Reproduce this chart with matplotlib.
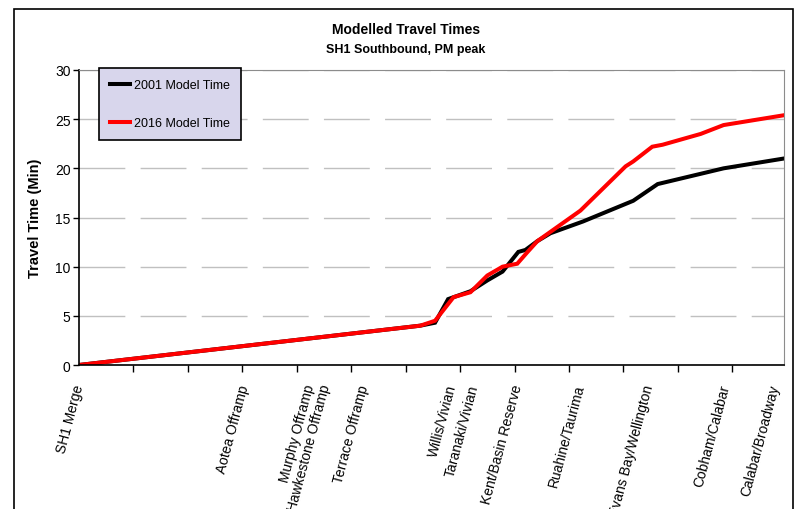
import matplotlib
matplotlib.use('Agg')
import matplotlib.pyplot as plt
from matplotlib.patches import Rectangle

# positions along the route (in axis tick units) and travel times (min)
pos_2001 = [0, 6.27, 6.54, 6.78, 7.19, 7.50, 7.78, 8.07, 8.20, 8.42, 8.66, 9.26, 10.18, 10.63, 11.84, 12.95]
time_2001 = [0, 4.0, 4.3, 6.7, 7.5, 8.6, 9.5, 11.5, 11.7, 12.6, 13.4, 14.6, 16.7, 18.4, 20.0, 21.0]

pos_2016 = [0, 6.27, 6.54, 6.88, 7.19, 7.50, 7.78, 8.05, 8.24, 8.42, 9.21, 10.04, 10.18, 10.53, 10.72, 11.42, 11.84, 12.95]
time_2016 = [0, 4.0, 4.5, 6.9, 7.4, 9.1, 10.0, 10.3, 11.5, 12.6, 15.7, 20.2, 20.7, 22.2, 22.4, 23.5, 24.4, 25.4]

stop_names = ['SH1 Merge', 'Aotea Offramp', 'Murphy Offramp', 'Hawkestone Offramp', 'Terrace Offramp',
              'Willis/Vivian', 'Taranaki/Vivian', 'Kent/Basin Reserve', 'Ruahine/Taurima',
              'Evans Bay/Wellington', 'Cobham/Calabar', 'Calabar/Broadway']
stop_pos = [0, 3.05, 4.24, 4.53, 5.25, 6.86, 7.27, 8.06, 9.21, 10.48, 11.87, 12.78]

narrow = ['Liberation Sans Narrow', 'Liberation Sans', 'DejaVu Sans']
arial = ['Liberation Sans', 'DejaVu Sans']

fig = plt.figure(figsize=(7.99, 5.10), dpi=100)
ax = fig.add_axes([79/799, 1-366/510, (784-79)/799, (366-71)/510])

ax.plot(pos_2001, time_2001, color='black', lw=2.9, label='2001 Model Time', solid_joinstyle='miter')
ax.plot(pos_2016, time_2016, color='#ff0000', lw=2.9, label='2016 Model Time', solid_joinstyle='miter')

ax.set_xlim(0, 12.95)
ax.set_ylim(0, 30)
ax.set_yticks([0, 5, 10, 15, 20, 25, 30])
ax.yaxis.grid(True, color='#c0c0c0', lw=1, linestyle=(0, (33, 11)))
ax.set_axisbelow(True)

# category labels at stop positions, tick marks every unit
ax.set_xticks(stop_pos)
ax.set_xticklabels(stop_names, rotation=75, ha='right', va='center', rotation_mode='anchor',
                   family=arial, fontsize=10)
ax.tick_params(axis='x', which='major', length=0, pad=14)
ax.set_xticks(range(0, 13), minor=True)
ax.tick_params(axis='x', which='minor', length=5, width=1, direction='out')
ax.tick_params(axis='y', length=4, width=1, direction='out', pad=2)
for lab in ax.get_yticklabels():
    lab.set_family(narrow)
    lab.set_fontsize(10)

ax.spines['left'].set_color('black')
ax.spines['bottom'].set_color('black')
ax.spines['left'].set_linewidth(1.2)
ax.spines['bottom'].set_linewidth(1.2)
ax.spines['top'].set_color('#8c8c8c')
ax.spines['right'].set_color('#8c8c8c')

leg = ax.legend(loc='upper left', bbox_to_anchor=(99/799, 1-69/510), bbox_transform=fig.transFigure,
                borderaxespad=0, frameon=True, fancybox=False, shadow=False,
                prop={'family': narrow, 'size': 9}, handlelength=1.6, handletextpad=0.3,
                labelspacing=2.05, borderpad=0.9)
leg.get_frame().set_facecolor('#d8d6ec')
leg.get_frame().set_edgecolor('black')
leg.get_frame().set_linewidth(1.2)
leg.get_frame().set_alpha(1)

fig.text(406/799, 1-30/510, 'Modelled Travel Times', ha='center', va='center',
         family=narrow, fontweight='bold', fontsize=10)
fig.text(406/799, 1-50/510, 'SH1 Southbound, PM peak', ha='center', va='center',
         family=narrow, fontweight='bold', fontsize=9)
fig.text(35/799, 1-218/510, 'Travel Time (Min)', rotation=90, ha='center', va='center',
         family=arial, fontweight='bold', fontsize=10.5)

fig.patches.append(Rectangle((14/799, -0.05), (793-14)/799, 1-10/510+0.05, transform=fig.transFigure,
                             fill=False, edgecolor='black', lw=1.2))

fig.savefig('out.png', dpi=100)
